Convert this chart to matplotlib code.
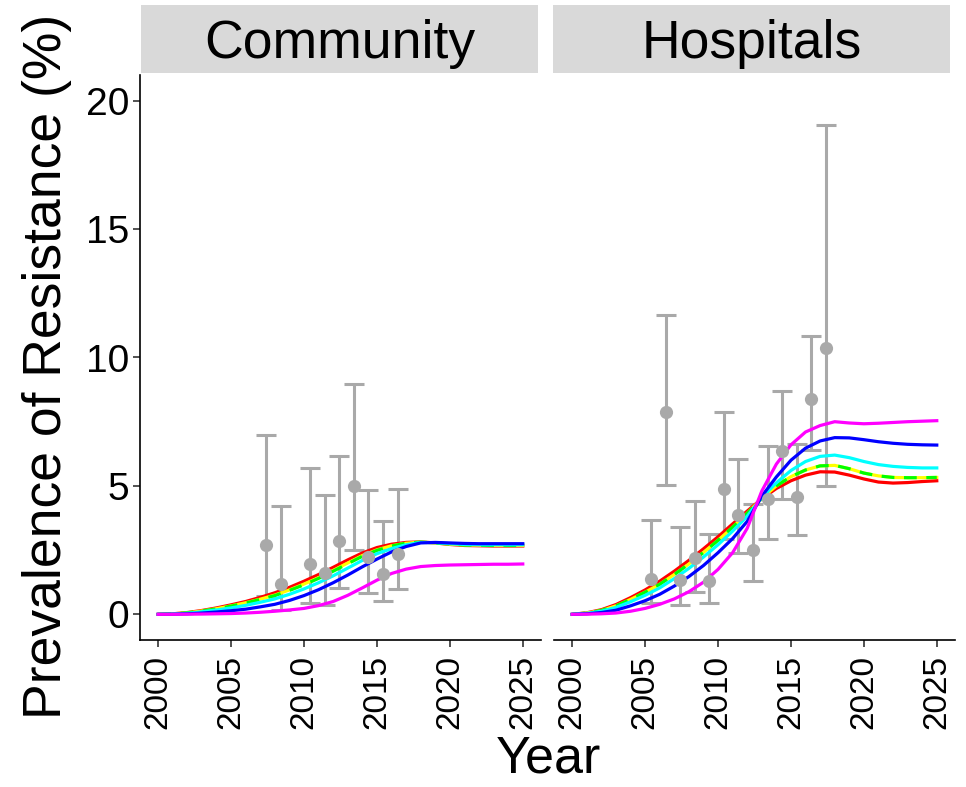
import matplotlib
matplotlib.use("Agg")
import matplotlib.pyplot as plt
from matplotlib.patches import Rectangle

plt.rcParams['font.family'] = ['Liberation Sans', 'DejaVu Sans']

# ---------------- data ----------------
years = list(range(2000, 2026))
panels = ["Community", "Hospitals"]
series_colors = ["#FF0000", "#FFFF00", "#00FF00", "#00FFFF", "#0000FF", "#FF00FF"]
series_styles = ["-", "-", "--", "-", "-", "-"]

# Community model curves
com_red = [0, 0.02, 0.07, 0.15, 0.25, 0.37, 0.5, 0.66, 0.84, 1.05, 1.29, 1.55, 1.83, 2.12, 2.39, 2.60, 2.73, 2.80, 2.82, 2.78, 2.72, 2.68, 2.67, 2.66, 2.66, 2.66]
com_yellow = [0, 0.017, 0.06, 0.13, 0.22, 0.33, 0.45, 0.59, 0.75, 0.95, 1.18, 1.43, 1.71, 2.00, 2.29, 2.51, 2.67, 2.77, 2.81, 2.78, 2.73, 2.70, 2.69, 2.68, 2.68, 2.68]
com_green = [0, 0.016, 0.06, 0.13, 0.21, 0.32, 0.44, 0.58, 0.73, 0.93, 1.15, 1.40, 1.68, 1.97, 2.26, 2.49, 2.66, 2.77, 2.81, 2.78, 2.74, 2.70, 2.69, 2.68, 2.68, 2.68]
com_cyan = [0, 0.012, 0.04, 0.10, 0.17, 0.25, 0.35, 0.47, 0.60, 0.78, 0.99, 1.23, 1.50, 1.80, 2.10, 2.36, 2.56, 2.71, 2.80, 2.79, 2.75, 2.72, 2.71, 2.71, 2.71, 2.71]
com_blue = [0, 0.005, 0.02, 0.05, 0.09, 0.14, 0.2, 0.29, 0.39, 0.54, 0.73, 0.96, 1.23, 1.53, 1.85, 2.15, 2.43, 2.64, 2.78, 2.8, 2.78, 2.76, 2.75, 2.75, 2.75, 2.75]
com_magenta = [0, 0, 0.005, 0.01, 0.02, 0.03, 0.05, 0.08, 0.12, 0.17, 0.23, 0.34, 0.50, 0.74, 1.03, 1.33, 1.59, 1.76, 1.86, 1.90, 1.92, 1.93, 1.94, 1.95, 1.95, 1.96]

# Hospital model curves
hos_red = [0, 0.06, 0.18, 0.38, 0.65, 0.95, 1.29, 1.68, 2.10, 2.55, 3.02, 3.52, 4.02, 4.50, 4.90, 5.20, 5.42, 5.55, 5.54, 5.42, 5.27, 5.15, 5.11, 5.13, 5.17, 5.20]
hos_yellow = [0, 0.05, 0.15, 0.33, 0.58, 0.86, 1.17, 1.55, 1.96, 2.41, 2.88, 3.39, 3.93, 4.52, 5.00, 5.36, 5.62, 5.78, 5.80, 5.67, 5.50, 5.39, 5.33, 5.32, 5.32, 5.33]
hos_green = [0, 0.05, 0.15, 0.33, 0.58, 0.86, 1.17, 1.55, 1.96, 2.41, 2.88, 3.39, 3.93, 4.52, 5.00, 5.36, 5.62, 5.78, 5.80, 5.67, 5.50, 5.39, 5.33, 5.32, 5.32, 5.33]
hos_cyan = [0, 0.04, 0.12, 0.27, 0.49, 0.74, 1.03, 1.39, 1.79, 2.23, 2.71, 3.24, 3.82, 4.55, 5.12, 5.60, 5.95, 6.15, 6.20, 6.10, 5.95, 5.83, 5.76, 5.72, 5.70, 5.70]
hos_blue = [0, 0.02, 0.07, 0.16, 0.33, 0.53, 0.78, 1.10, 1.47, 1.90, 2.40, 2.95, 3.62, 4.60, 5.35, 6.00, 6.47, 6.75, 6.88, 6.87, 6.80, 6.72, 6.66, 6.62, 6.60, 6.59]
hos_magenta = [0, 0.005, 0.02, 0.05, 0.12, 0.23, 0.39, 0.60, 0.88, 1.25, 1.75, 2.40, 3.35, 4.80, 5.85, 6.60, 7.10, 7.35, 7.50, 7.45, 7.42, 7.44, 7.47, 7.50, 7.52, 7.54]

# Observed data (point estimate with interval)
com_obs_year = [2007.42, 2008.42, 2010.42, 2011.42, 2012.42, 2013.42, 2014.42, 2015.42, 2016.42]
com_obs_mid = [2.71, 1.19, 1.97, 1.61, 2.84, 5.00, 2.24, 1.56, 2.36]
com_obs_lo = [0.73, 0.15, 0.43, 0.36, 1.03, 2.49, 0.82, 0.51, 0.97]
com_obs_hi = [7.00, 4.22, 5.71, 4.65, 6.16, 8.96, 4.84, 3.62, 4.87]

hos_obs_year = [2005.4, 2006.4, 2007.4, 2008.4, 2009.4, 2010.4, 2011.4, 2012.4, 2013.4, 2014.4, 2015.4, 2016.4, 2017.4]
hos_obs_mid = [1.39, 7.86, 1.32, 2.19, 1.30, 4.87, 3.88, 2.49, 4.49, 6.37, 4.58, 8.37, 10.36]
hos_obs_lo = [0.43, 5.02, 0.36, 0.88, 0.45, 2.93, 2.40, 1.28, 2.93, 4.50, 3.09, 6.38, 4.98]
hos_obs_hi = [3.66, 11.66, 3.40, 4.42, 3.12, 7.88, 6.05, 4.29, 6.55, 8.69, 6.63, 10.82, 19.07]

x_ticks = [2000, 2005, 2010, 2015, 2020, 2025]
y_ticks = [0, 5, 10, 15, 20]

curves = {
    "Community": [com_red, com_yellow, com_green, com_cyan, com_blue, com_magenta],
    "Hospitals": [hos_red, hos_yellow, hos_green, hos_cyan, hos_blue, hos_magenta],
}
obs = {
    "Community": (com_obs_year, com_obs_mid, com_obs_lo, com_obs_hi),
    "Hospitals": (hos_obs_year, hos_obs_mid, hos_obs_lo, hos_obs_hi),
}

# ---------------- figure ----------------
W, H = 966, 787
fig = plt.figure(figsize=(W / 100, H / 100), dpi=100)

panel_left_px = [140, 554]
panel_w_px = 401
panel_top_px, panel_bot_px = 75, 640
strip_left_px = [141, 553]
strip_w_px = 397
strip_top_px, strip_bot_px = 5, 73
grey = "#A9A9A9"

axes = []
for i, name in enumerate(panels):
    l = panel_left_px[i] / W
    b = (H - panel_bot_px) / H
    ax = fig.add_axes([l, b, panel_w_px / W, (panel_bot_px - panel_top_px) / H])
    axes.append(ax)
    yrs, mid, lo, hi = obs[name]
    yerr = [[m - a for m, a in zip(mid, lo)], [h - m for m, h in zip(mid, hi)]]
    ax.errorbar(yrs, mid, yerr=yerr, fmt="none", ecolor=grey, elinewidth=2.2,
                capsize=7, capthick=2.2, zorder=2)
    for vals, c, ls in zip(curves[name], series_colors, series_styles):
        if ls == "--":
            ax.plot(years, vals, color=c, lw=2.3, ls=ls, dashes=(4, 3), zorder=3)
        else:
            ax.plot(years, vals, color=c, lw=2.3, ls=ls, zorder=3)
    ax.plot(yrs, mid, "o", color=grey, ms=9.5, mec="none", zorder=4)

    ax.set_xlim(1998.75, 2026.25)
    ax.set_ylim(-1, 21)
    ax.set_xticks(x_ticks)
    ax.set_xticklabels([str(t) for t in x_ticks], rotation=90, fontsize=24,
                       va="top", ha="center")
    for s in ["top", "right"]:
        ax.spines[s].set_visible(False)
    ax.spines["bottom"].set_linewidth(1.2)
    ax.tick_params(axis="x", length=5, width=1.2, color="#333333", pad=6)
    if i == 0:
        ax.set_yticks(y_ticks)
        ax.set_yticklabels([str(t) for t in y_ticks], fontsize=28)
        ax.spines["left"].set_linewidth(1.2)
        ax.tick_params(axis="y", length=5, width=1.2, color="#333333", pad=3)
    else:
        ax.spines["left"].set_visible(False)
        ax.set_yticks([])

    # strip
    sax = fig.add_axes([strip_left_px[i] / W, (H - strip_bot_px) / H, strip_w_px / W,
                        (strip_bot_px - strip_top_px) / H])
    sax.add_patch(Rectangle((0, 0), 1, 1, transform=sax.transAxes,
                            facecolor="#D9D9D9", edgecolor="none"))
    sax.set_axis_off()
    sax.text(0.5, 0.43, name, transform=sax.transAxes, ha="center", va="center",
             fontsize=38.5)

fig.text(47 / W, (H - 366) / H, "Prevalence of Resistance (%)", rotation=90,
         ha="center", va="center", fontsize=38.5)
fig.text((140 + 956) / 2 / W, (H - 759) / H, "Year", ha="center", va="center",
         fontsize=37.5)

fig.savefig("out.png", dpi=100)
